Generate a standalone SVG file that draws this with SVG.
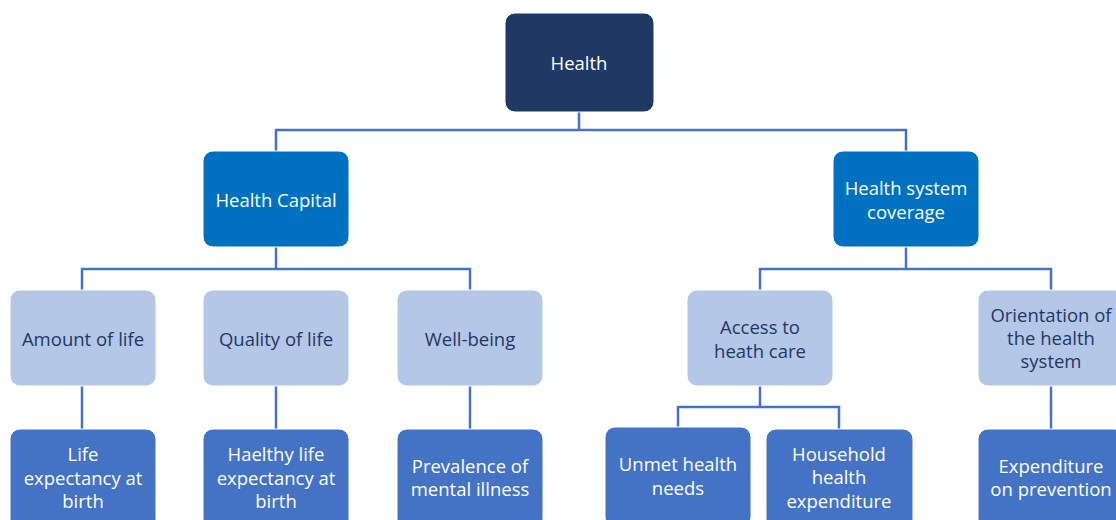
<svg xmlns="http://www.w3.org/2000/svg" width="1116" height="520" viewBox="0 0 1116 520">
  <style>
    .box { stroke: #ffffff; stroke-width: 1; }
    .top { fill: #1F3864; }
    .mid { fill: #0070C0; }
    .sub { fill: #B4C7E7; }
    .leaf { fill: #4472C4; }
    text { font-family: "Open Sans", "Liberation Sans", sans-serif; font-size: 18.5px; text-anchor: middle; }
    .light { fill: #ffffff; }
    .dark { fill: #1F3864; }
    .conn { fill: none; stroke: #4472C4; stroke-width: 2.5; }
  </style>
  <rect width="1116" height="520" fill="#ffffff"/>

  <g id="connectors">
    <polyline class="conn" points="579,112 579,130"/>
    <polyline class="conn" points="276,151 276,130 906,130 906,151"/>
    <polyline class="conn" points="276,247 276,269"/>
    <polyline class="conn" points="82,290 82,269 470,269 470,290"/>
    <polyline class="conn" points="906,247 906,269"/>
    <polyline class="conn" points="760,290 760,269 1051,269 1051,290"/>
    <polyline class="conn" points="82,386 82,429"/>
    <polyline class="conn" points="276,386 276,429"/>
    <polyline class="conn" points="470,386 470,429"/>
    <polyline class="conn" points="760,386 760,407"/>
    <polyline class="conn" points="678,427 678,407 839,407 839,429"/>
    <polyline class="conn" points="1051,386 1051,429"/>
  </g>

  <g id="health">
    <rect class="box top" x="505" y="13" width="149" height="99" rx="10"/>
    <text class="light" x="579" y="70">Health</text>
  </g>

  <g id="health-capital">
    <rect class="box mid" x="203" y="151" width="146" height="96" rx="10"/>
    <text class="light" x="276" y="207">Health Capital</text>
  </g>

  <g id="health-system-coverage">
    <rect class="box mid" x="833" y="151" width="146" height="96" rx="10"/>
    <text class="light" x="906" y="195">Health system</text>
    <text class="light" x="906" y="219">coverage</text>
  </g>

  <g id="amount-of-life">
    <rect class="box sub" x="10" y="290" width="146" height="96" rx="10"/>
    <text class="dark" x="83" y="346">Amount of life</text>
  </g>

  <g id="quality-of-life">
    <rect class="box sub" x="203" y="290" width="146" height="96" rx="10"/>
    <text class="dark" x="276" y="346">Quality of life</text>
  </g>

  <g id="well-being">
    <rect class="box sub" x="397" y="290" width="146" height="96" rx="10"/>
    <text class="dark" x="470" y="346">Well-being</text>
  </g>

  <g id="access-to-health-care">
    <rect class="box sub" x="687" y="290" width="146" height="96" rx="10"/>
    <text class="dark" x="760" y="334">Access to</text>
    <text class="dark" x="760" y="358">heath care</text>
  </g>

  <g id="orientation">
    <rect class="box sub" x="978" y="290" width="146" height="96" rx="10"/>
    <text class="dark" x="1051" y="322">Orientation of</text>
    <text class="dark" x="1051" y="345">the health</text>
    <text class="dark" x="1051" y="368">system</text>
  </g>

  <g id="life-expectancy">
    <rect class="box leaf" x="10" y="429" width="146" height="100" rx="10"/>
    <text class="light" x="83" y="461">Life</text>
    <text class="light" x="83" y="485">expectancy at</text>
    <text class="light" x="83" y="508">birth</text>
  </g>

  <g id="healthy-life-expectancy">
    <rect class="box leaf" x="203" y="429" width="146" height="100" rx="10"/>
    <text class="light" x="276" y="461">Haelthy life</text>
    <text class="light" x="276" y="485">expectancy at</text>
    <text class="light" x="276" y="508">birth</text>
  </g>

  <g id="mental-illness">
    <rect class="box leaf" x="397" y="429" width="146" height="100" rx="10"/>
    <text class="light" x="470" y="473">Prevalence of</text>
    <text class="light" x="470" y="496">mental illness</text>
  </g>

  <g id="unmet-needs">
    <rect class="box leaf" x="605" y="427" width="146" height="100" rx="10"/>
    <text class="light" x="678" y="471">Unmet health</text>
    <text class="light" x="678" y="495">needs</text>
  </g>

  <g id="household-expenditure">
    <rect class="box leaf" x="766" y="429" width="147" height="100" rx="10"/>
    <text class="light" x="839" y="461">Household</text>
    <text class="light" x="839" y="484">health</text>
    <text class="light" x="839" y="508">expenditure</text>
  </g>

  <g id="prevention-expenditure">
    <rect class="box leaf" x="978" y="429" width="146" height="100" rx="10"/>
    <text class="light" x="1051" y="473">Expenditure</text>
    <text class="light" x="1051" y="496">on prevention</text>
  </g>
</svg>
